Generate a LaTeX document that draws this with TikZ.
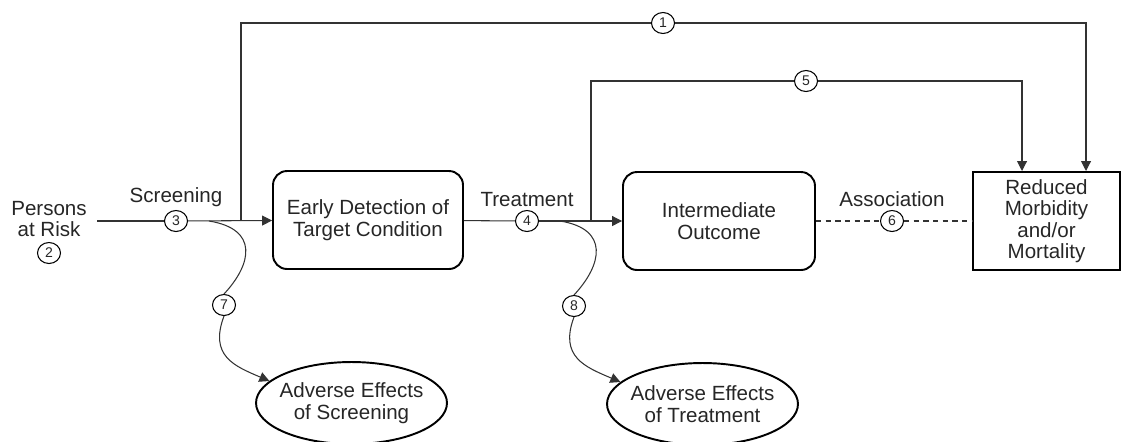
\documentclass[tikz,border=0pt]{standalone}
\usepackage{fontspec}
\setmainfont{Liberation Sans}
\usetikzlibrary{positioning,shapes.geometric,arrows.meta}

\begin{document}
\begin{tikzpicture}[x=0.02cm, y=-0.02cm,
    >={Triangle[length=0.2cm,width=0.2cm]},
    every node/.style={font=\fontsize{11.7}{12.2}\selectfont, text=black!85},
    link/.style={line width=0.6pt, draw=black!80},
    box/.style={draw, line width=1.1pt, rounded corners=0.28cm, minimum width=3.8cm, minimum height=1.96cm, align=center},
    outcome/.style={draw, line width=1.4pt, minimum width=2.94cm, minimum height=1.96cm, align=center},
    harm/.style={ellipse, draw, line width=1.1pt, minimum width=3.82cm, minimum height=1.64cm, align=center, inner xsep=-8pt, inner ysep=0pt},
    num/.style={ellipse, draw, line width=0.6pt, minimum width=0.46cm, minimum height=0.42cm, inner sep=0pt, font=\fontsize{8}{8}\selectfont},
    lbl/.style={inner sep=1pt}]

    \useasboundingbox (0,0) rectangle (1121,441);

    % Boxes on the main line
    \node[box] (early) at (368,220) {Early Detection of\\Target Condition};
    \node[box, minimum width=3.84cm] (inter) at (719,221) {Intermediate\\Outcome};
    \node[outcome] (reduced) at (1046.5,221) {Reduced\\Morbidity\\and/or\\Mortality};

    % Adverse effects
    \node[harm] (advscreen) at (351.5,403) {Adverse Effects\\of Screening};
    \node[harm] (advtreat) at (702.5,404) {Adverse Effects\\of Treatment};

    % Start and numbered circles
    \node[align=center] (persons) at (49,219) {Persons\\at Risk};
    \node[num] (n2) at (49,253) {2};
    \node[num] (n3) at (176,221) {3};
    \node[num] (n4) at (527,221) {4};
    \node[num] (n6) at (892,221) {6};
    \node[num] (n1) at (663,23) {1};
    \node[num] (n5) at (806,81) {5};
    \node[num] (n7) at (224,305) {7};
    \node[num] (n8) at (574,306) {8};

    % Labels above the circles
    \node[lbl, above=0.5pt of n3] (screening) {Screening};
    \node[lbl, above=0.5pt of n4] (treatment) {Treatment};
    \node[lbl, above=0.5pt of n6] (association) {Association};

    % Junctions on the main line
    \coordinate (start) at (97,221);
    \coordinate (j1) at (241,221);
    \coordinate (j5) at (591,221);
    \coordinate (s7) at (209,221);
    \coordinate (s8) at (560,221);
    \coordinate (r5) at (1022,171);
    \coordinate (r1) at (1086,171);

    % Main line
    \draw[link] (start) -- (n3);
    \draw[link,->] (n3) -- (early);
    \draw[link] (early) -- (n4);
    \draw[link,->] (n4) -- (inter);
    \draw[link,dash pattern=on 3pt off 2.5pt] (inter) -- (n6);
    \draw[link,dash pattern=on 3pt off 2.5pt] (n6) -- (reduced);

    % Overarching links
    \draw[link] (j1) |- (n1);
    \draw[link,->] (n1) -| (r1);
    \draw[link] (j5) |- (n5);
    \draw[link,->] (n5) -| (r5);

    % Harms
    \draw[link] (s7) .. controls +(50,8) and +(28,-30) .. (n7.north);
    \draw[link,->] (n7.south) .. controls +(-15,40) and +(-35,-15) .. (advscreen.165);
    \draw[link] (s8) .. controls +(50,8) and +(28,-30) .. (n8.north);
    \draw[link,->] (n8.south) .. controls +(-15,40) and +(-35,-15) .. (advtreat.165);

\end{tikzpicture}
\end{document}
